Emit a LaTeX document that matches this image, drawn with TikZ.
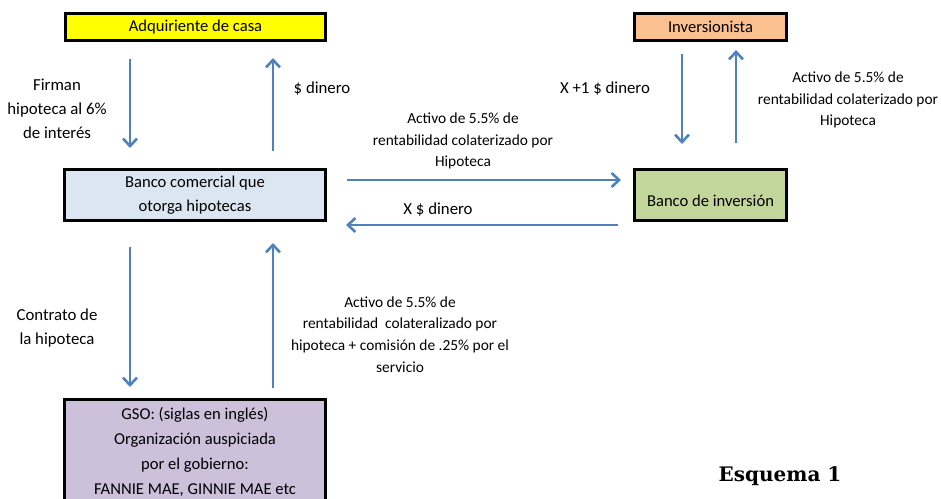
\documentclass[tikz,border=0pt]{standalone}
\usepackage{fontspec}
\setmainfont{Carlito}
\newfontfamily\esqfont{DejaVu Serif}
\usetikzlibrary{arrows.meta}
\definecolor{arrblue}{HTML}{4F81BD}
\definecolor{fyellow}{HTML}{FFFF00}
\definecolor{fblue}{HTML}{DCE6F2}
\definecolor{forange}{HTML}{FAC090}
\definecolor{fgreen}{HTML}{C3D69B}
\definecolor{fpurple}{HTML}{CCC0DA}
\tikzset{
  boxnode/.style={draw=black, line width=3pt, align=center, inner sep=0pt,
    font=\fontsize{16.6}{24}\selectfont},
  arr/.style={draw=arrblue, line width=2.6pt, -{Straight Barb[length=7.5pt,width=14pt,line width=2.6pt]}},
  lbl/.style={align=center, inner sep=0pt, font=\fontsize{16.8}{24}\selectfont},
  slbl/.style={align=center, inner sep=0pt, font=\fontsize{15.4}{21.7}\selectfont},
}
\begin{document}
\begin{tikzpicture}[x=1pt,y=-1pt]
\useasboundingbox (0,0) rectangle (941,498);
% boxes
\node[boxnode, fill=fyellow, minimum width=260pt, minimum height=27pt] (adq) at (195.5,27) {Adquiriente de casa};
\node[boxnode, fill=fblue, minimum width=261pt, minimum height=51pt] (bc) at (195,195) {Banco comercial que\\otorga hipotecas};
\node[boxnode, fill=forange, minimum width=152pt, minimum height=27pt] (inv) at (710.5,27) {Inversionista};
\node[boxnode, fill=fgreen, minimum width=152pt, minimum height=51pt] (bi) at (710.5,195) {~\\Banco de inversión};
\node[boxnode, fill=fpurple, minimum width=261pt, minimum height=104pt, font=\fontsize{16.6}{25}\selectfont] (gso) at (195,451.5) {GSO: (siglas en inglés)\\Organización auspiciada\\por el gobierno:\\FANNIE MAE, GINNIE MAE etc};
% arrow end points
\coordinate (a1s) at (130,59);  \coordinate (a1e) at (130,148);
\coordinate (a2s) at (273,151); \coordinate (a2e) at (273,58);
\coordinate (a3s) at (347,180); \coordinate (a3e) at (621,180);
\coordinate (a4s) at (618,225); \coordinate (a4e) at (346,225);
\coordinate (a5s) at (682,54);  \coordinate (a5e) at (682,144);
\coordinate (a6s) at (736,143); \coordinate (a6e) at (736,50);
\coordinate (a7s) at (130,247); \coordinate (a7e) at (130,387);
\coordinate (a8s) at (273,388); \coordinate (a8e) at (273,243);
\draw[arr] (a1s) -- (a1e);
\draw[arr] (a2s) -- (a2e);
\draw[arr] (a3s) -- (a3e);
\draw[arr] (a4s) -- (a4e);
\draw[arr] (a5s) -- (a5e);
\draw[arr] (a6s) -- (a6e);
\draw[arr] (a7s) -- (a7e);
\draw[arr] (a8s) -- (a8e);
% labels
\node[lbl] (l1) at (57,109) {Firman\\hipoteca al 6\%\\de interés};
\node[lbl] (l2) at (322,89) {\$ dinero};
\node[slbl] (l3) at (463,141) {Activo de 5.5\% de\\rentabilidad colaterizado por\\Hipoteca};
\node[lbl] (l4) at (438,210) {X \$ dinero};
\node[lbl] (l5) at (605,89) {X +1 \$ dinero};
\node[slbl] (l6) at (848,100) {Activo de 5.5\% de\\rentabilidad colaterizado por\\Hipoteca};
\node[lbl] (l7) at (57,328) {Contrato de\\la hipoteca};
\node[slbl] (l8) at (400,334.5) {Activo de 5.5\% de\\rentabilidad\ \ colateralizado por\\hipoteca + comisión de .25\% por el\\servicio};
\node[inner sep=0pt, font=\esqfont\bfseries\fontsize{20}{24}\selectfont] (esq) at (780,476) {Esquema 1};
\end{tikzpicture}
\end{document}
